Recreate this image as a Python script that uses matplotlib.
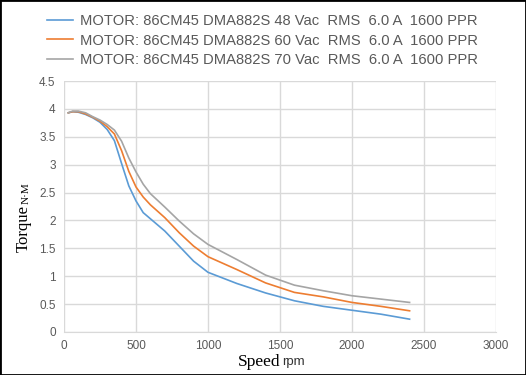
#!/usr/bin/env python
"""Torque vs speed curves of the 86CM45 motor with a DMA882S driver,
at three supply voltages (6.0 A RMS, 1600 PPR)."""

import matplotlib
matplotlib.use('Agg')
import matplotlib.pyplot as plt
from matplotlib.patches import Rectangle

# Speed points (rpm), shared by the three curves
speed = [30, 60, 100, 150, 200, 250, 300, 350, 400, 450, 500, 550, 600,
         700, 800, 900, 1000, 1200, 1400, 1600, 1800, 2000, 2200, 2400]

# Torque (N.m)
torque_48v = [3.93, 3.95, 3.94, 3.90, 3.84, 3.76, 3.63, 3.43, 3.02, 2.62,
              2.35, 2.14, 2.03, 1.81, 1.54, 1.27, 1.07, 0.87, 0.70, 0.56,
              0.46, 0.39, 0.32, 0.23]
torque_60v = [3.93, 3.95, 3.95, 3.91, 3.85, 3.78, 3.68, 3.55, 3.25, 2.88,
              2.60, 2.42, 2.28, 2.05, 1.78, 1.54, 1.35, 1.12, 0.88, 0.71,
              0.63, 0.53, 0.46, 0.38]
torque_70v = [3.93, 3.96, 3.96, 3.93, 3.86, 3.80, 3.72, 3.62, 3.42, 3.12,
              2.87, 2.65, 2.48, 2.24, 1.99, 1.76, 1.57, 1.30, 1.02, 0.84,
              0.74, 0.65, 0.59, 0.53]

series_labels = [
    'MOTOR: 86CM45 DMA882S 48 Vac  RMS  6.0 A  1600 PPR',
    'MOTOR: 86CM45 DMA882S 60 Vac  RMS  6.0 A  1600 PPR',
    'MOTOR: 86CM45 DMA882S 70 Vac  RMS  6.0 A  1600 PPR',
]

x_ticks = [0, 500, 1000, 1500, 2000, 2500, 3000]
y_ticks = [0, 0.5, 1, 1.5, 2, 2.5, 3, 3.5, 4, 4.5]
y_tick_labels = ['0', '0.5', '1', '1.5', '2', '2.5', '3', '3.5', '4', '4.5']


def main():
    """Draw the chart and save it as out.png."""
    text_grey = '#595959'
    colors = ['#5B9BD5', '#ED7D31', '#A5A5A5']

    fig = plt.figure(figsize=(5.26, 3.75), dpi=100)
    axes = fig.add_axes([64 / 526, 1 - 332 / 375, 432 / 526, 251 / 375])

    for torque, color, label in zip([torque_48v, torque_60v, torque_70v],
                                    colors, series_labels):
        axes.plot(speed, torque, color=color, linewidth=1.2, label=label)

    axes.set_xlim(0, 3000)
    axes.set_ylim(0, 4.5)
    axes.set_xticks(x_ticks)
    axes.set_yticks(y_ticks)
    axes.set_yticklabels(y_tick_labels)
    axes.grid(True, color='#d9d9d9', linewidth=1.0)
    axes.set_axisbelow(True)
    for side in ['top', 'right', 'left']:
        axes.spines[side].set_visible(False)
    axes.spines['bottom'].set_color('#d9d9d9')
    axes.tick_params(length=0, labelsize=8.5, labelcolor=text_grey, pad=6,
                     labelfontfamily='Liberation Sans')

    # Axis titles: serif word with a small unit next to it
    fig.text(259 / 526, 1 - 366 / 375, 'Speed', ha='center', va='baseline',
             family='Liberation Serif', fontsize=12.5)
    fig.text(282 / 526, 1 - 365 / 375, 'rpm', ha='left', va='baseline',
             family='Liberation Sans', fontsize=9.5, color='#333333')
    fig.text(24 / 526, 1 - 228 / 375, 'Torque', ha='center', va='center',
             rotation=90, family='Liberation Serif', fontsize=12)
    fig.text(26 / 526, 1 - 193 / 375, 'N·M', ha='center', va='center',
             rotation=90, family='Liberation Serif', fontsize=8)

    fig.legend(loc='upper left', bbox_to_anchor=(47 / 526, 1 - 14 / 375),
               frameon=False, borderpad=0, borderaxespad=0,
               handlelength=1.75, handletextpad=0.5, labelspacing=0.38,
               prop={'family': 'Liberation Sans', 'size': 10.6},
               labelcolor=text_grey)

    # black frame around the whole picture
    fig.add_artist(Rectangle((0, 0), 1, 1, transform=fig.transFigure,
                             fill=False, edgecolor='black', linewidth=2))

    fig.savefig('out.png', dpi=100)


if __name__ == '__main__':
    main()
